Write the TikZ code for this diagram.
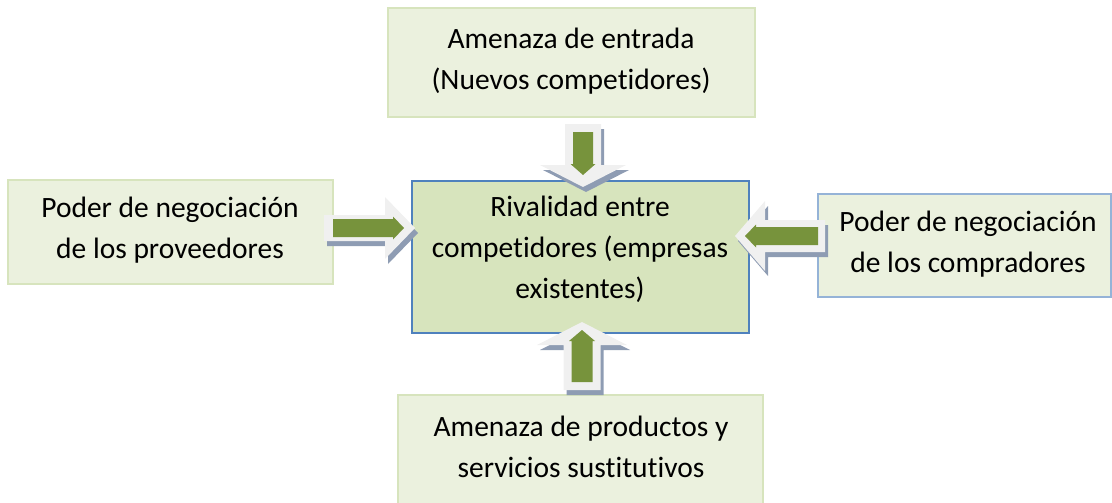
\documentclass[tikz,border=0pt]{standalone}
\usepackage{fontspec}
\setmainfont{Carlito}[Ligatures={NoCommon}]
\definecolor{lightfill}{HTML}{EBF1DE}
\definecolor{midfill}{HTML}{D7E4BD}
\definecolor{greenedge}{HTML}{D7E4BD}
\definecolor{blueedge}{HTML}{4F81BD}
\definecolor{paleblue}{HTML}{95B3D7}
\definecolor{arrowgreen}{HTML}{77933C}
\definecolor{arrowbody}{HTML}{F0F0F0}
\definecolor{arrowshadow}{HTML}{8E9CB3}
\tikzset{
  box/.style={draw=greenedge, fill=lightfill, line width=1.5pt, inner sep=0pt},
  lbl/.style={align=center, font=\fontsize{29.5}{41}\selectfont, inner sep=0pt, text=black},
}
% #1 tip, #2 rotation, #3 length, #4 shaft half width, #5 head half width, #6 head length,
% #7 green back inset, #8 green tip inset, #9 green half width
\newcommand\blockarr[9]{%
  \begin{scope}[shift={#1}, shift={(3,5)}, rotate=#2]
    \fill[arrowshadow] (0,0) -- (-#6,#5) -- (-#6,#4) -- (-#3,#4) -- (-#3,-#4) -- (-#6,-#4) -- (-#6,-#5) -- cycle;
  \end{scope}
  \begin{scope}[shift={#1}, rotate=#2]
    \fill[arrowbody] (0,0) -- (-#6,#5) -- (-#6,#4) -- (-#3,#4) -- (-#3,-#4) -- (-#6,-#4) -- (-#6,-#5) -- cycle;
    \fill[arrowgreen] (-#8,0) -- ({-#8-11},{#9+2.5}) -- ({-#8-11},#9) -- ({-#3+#7},#9) -- ({-#3+#7},-#9) -- ({-#8-11},-#9) -- ({-#8-11},{-#9-2.5}) -- cycle;
  \end{scope}}
\begin{document}
\begin{tikzpicture}[x=1pt,y=-1pt]
  \useasboundingbox (0,0) rectangle (1112,503);
  \clip (0,0) rectangle (1112,503);
  % boxes
  \path[box] (388,8) rectangle (755,117);
  \node[lbl, anchor=base] (top) at (571,90) {Amenaza de entrada\\(Nuevos competidores)};
  \path[box] (8,180) rectangle (333,284);
  \node[lbl, anchor=base] (left) at (170,258) {Poder de negociación\\de los proveedores};
  \path[box, fill=midfill, draw=blueedge] (412,181) rectangle (749,333);
  \node[lbl, anchor=base] (center) at (580,298) {Rivalidad entre\\competidores (empresas\\existentes)};
  \path[box, draw=paleblue] (818,194) rectangle (1111,297);
  \node[lbl, anchor=base] (right) at (968,272) {Poder de negociación\\de los compradores};
  \path[box] (398,395) rectangle (763,515);
  \node[lbl, anchor=base] (bottom) at (581,477) {Amenaza de productos y\\servicios sustitutivos};
  % block arrows
  \blockarr{(415,228)}{0}{91}{13}{31}{30}{9}{11}{9}
  \blockarr{(735,236)}{180}{90}{16}{35}{30}{7}{10}{9}
  \blockarr{(583,187)}{-90}{63}{18}{43}{22}{8}{12}{10}
  \blockarr{(582,322)}{90}{68}{18.5}{45}{23}{8}{8}{10.5}
\end{tikzpicture}
\end{document}
